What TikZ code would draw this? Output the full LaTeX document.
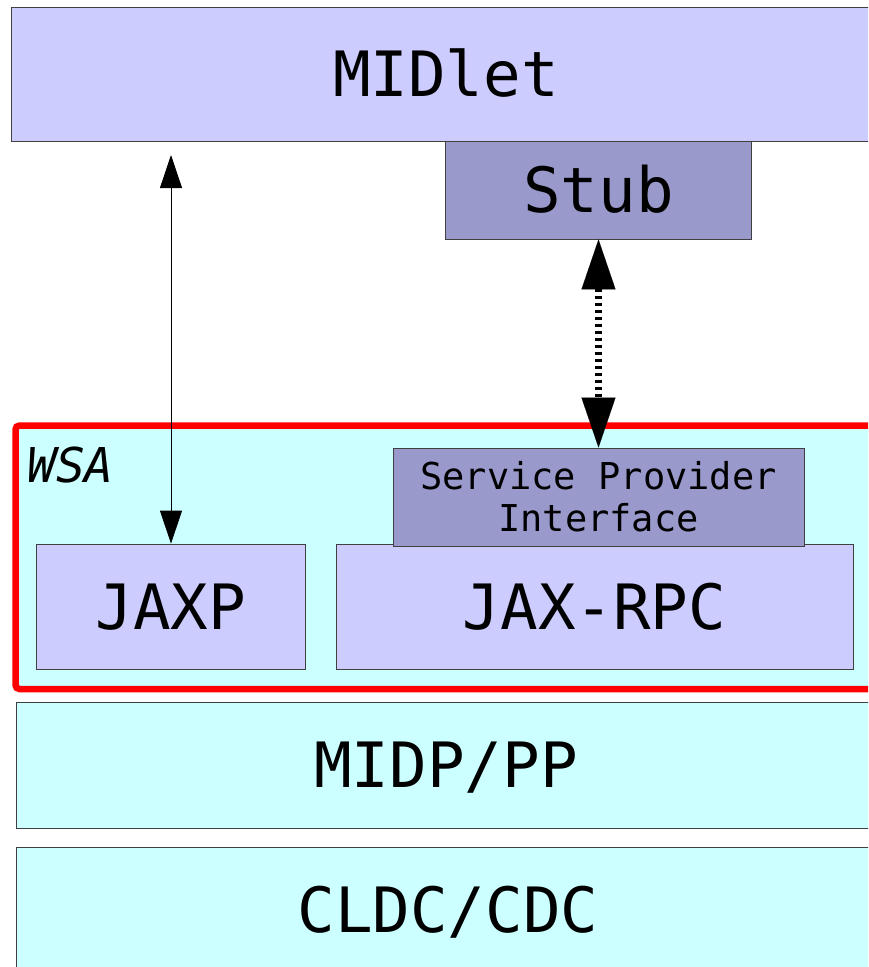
\documentclass[tikz,border=0pt]{standalone}
\usepackage{fontspec}
\newfontfamily\dmono{DejaVu Sans Mono}
\usetikzlibrary{arrows.meta}
\definecolor{lav}{HTML}{CCCCFF}
\definecolor{slate}{HTML}{9999CC}
\definecolor{aqua}{HTML}{CCFFFF}
\definecolor{wsared}{HTML}{FF0000}
\begin{document}
\begin{tikzpicture}[x=1pt,y=-1pt,
  box/.style={draw=black!75, line width=0.8pt, inner sep=0pt,
    font=\dmono\fontsize{62.5}{70}\selectfont, text height=45.5pt, text depth=0pt},
  lavbox/.style={box, fill=lav},
  slatebox/.style={box, fill=slate},
  aquabox/.style={box, fill=aqua},
  thinarrow/.style={line width=0.8pt,
    {Triangle[width=22pt,length=33pt]}-{Triangle[width=22pt,length=33pt]}},
  dotarrow/.style={line width=6.5pt, dash pattern=on 3pt off 4pt,
    {Triangle[width=34pt,length=50pt,line width=0.1pt]}-{Triangle[width=34pt,length=50pt,line width=0.1pt]}}
]
\useasboundingbox (0,0) rectangle (868,967);
\clip (0,0) rectangle (868,967);

% MIDlet and stub
\node[lavbox, minimum width=870pt, minimum height=134pt] (midlet) at (446,74) {MIDlet};
\node[slatebox, minimum width=306pt, minimum height=98pt] (stub) at (598.5,190) {Stub};

% WSA container
\node[draw=wsared, line width=6.5pt, rounded corners=4pt, fill=aqua, inner sep=0pt,
      minimum width=874pt, minimum height=263.5pt] (wsa) at (452.5,557.25) {};
\node[anchor=base west, inner sep=0pt, font=\dmono\itshape\fontsize{48}{54}\selectfont] (wsalabel) at (27,482) {WSA};

\node[lavbox, minimum width=269pt, minimum height=125pt] (jaxp) at (171,606.5) {JAXP};
\node[lavbox, minimum width=517pt, minimum height=125pt] (jaxrpc) at (594.5,606.5) {JAX-RPC};
\node[draw=black!75, line width=0.8pt, fill=slate, inner sep=0pt,
      minimum width=411pt, minimum height=98pt, align=center,
      font=\dmono\fontsize{37}{42}\selectfont] (spi) at (598.5,497)
      {Service Provider\\Interface};

% lower layers
\node[aquabox, minimum width=860pt, minimum height=126pt] (midp) at (446,765) {MIDP/PP};
\node[aquabox, minimum width=864pt, minimum height=126pt] (cldc) at (448,910) {CLDC/CDC};

% connectors
\coordinate (atop) at (171,155);
\draw[thinarrow] (atop) -- (jaxp.north);
\draw[dotarrow] (stub.south) -- (spi.north);
\end{tikzpicture}
\end{document}
